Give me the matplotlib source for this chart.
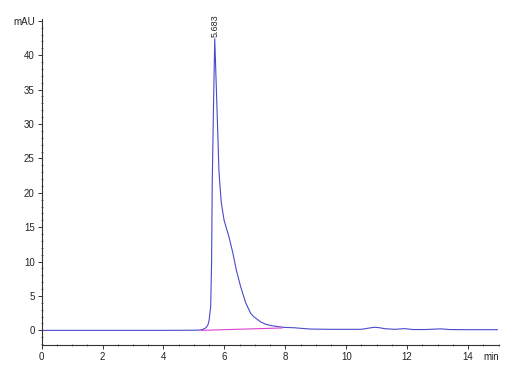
import matplotlib
matplotlib.use("Agg")
import matplotlib.pyplot as plt
import numpy as np

# chromatogram trace (min, mAU)
time_min = [0.0, 1.0, 2.0, 3.0, 4.0, 5.0, 5.2, 5.3, 5.4, 5.46, 5.50, 5.55, 5.58,
            5.60, 5.64, 5.683, 5.73, 5.78, 5.82, 5.855, 5.90, 5.99, 6.07, 6.15,
            6.28, 6.39, 6.53, 6.70, 6.86, 6.96, 7.08, 7.2, 7.35, 7.52, 7.75,
            7.96, 8.29, 8.5, 8.83, 9.49, 10.0, 10.48, 10.7, 10.92, 11.1, 11.25,
            11.6, 11.9, 12.2, 12.6, 13.1, 13.4, 13.8, 14.3, 14.96]
signal_mau = [0.0, 0.0, 0.0, 0.0, 0.0, 0.02, 0.05, 0.15, 0.4, 0.8, 1.5, 3.5, 10.0,
              21.0, 32.0, 42.4, 36.0, 29.0, 23.3, 21.0, 18.5, 16.0, 14.8, 13.6,
              11.2, 8.8, 6.4, 4.0, 2.5, 2.0, 1.6, 1.2, 0.9, 0.7, 0.55,
              0.43, 0.38, 0.3, 0.19, 0.15, 0.15, 0.15, 0.3, 0.45, 0.38, 0.25,
              0.15, 0.25, 0.12, 0.12, 0.22, 0.12, 0.1, 0.1, 0.1]

# integration baseline under the main peak
base_time = [5.25, 7.9]
base_mau = [0.0, 0.35]

peak_rt = 5.683
peak_height = 42.4

yticks = [0, 5, 10, 15, 20, 25, 30, 35, 40, 45]
ytick_labels = ["0", "5", "10", "15", "20", "25", "30", "35", "40", "mAU"]
xticks = [0, 2, 4, 6, 8, 10, 12, 14]

plt.rcParams['font.family'] = ['Liberation Sans Narrow', 'Liberation Sans', 'DejaVu Sans']

fig = plt.figure(figsize=(5.27, 3.83), dpi=100)
ax = fig.add_axes([0.079, 0.099, 0.867, 0.852])

ax.plot(time_min, signal_mau, color='#4a4acc', lw=0.8)
ax.plot(base_time, base_mau, color='#e040d0', lw=0.8)

ax.text(peak_rt, peak_height + 0.3, "%.3f" % peak_rt, rotation=90,
        ha='center', va='bottom', fontsize=6.5, color='#222222', clip_on=False)

ax.set_xlim(0, 15)
ax.set_ylim(-2.14, 45.3)

ax.set_yticks(yticks)
ax.set_yticklabels(ytick_labels)
ax.set_yticks(np.arange(-2, 45, 1), minor=True)
ax.set_xticks(xticks)
ax.set_xticks(np.arange(0, 15.01, 0.5), minor=True)

ax.tick_params(axis='both', which='major', labelsize=7, length=3, width=0.7,
               color='#333333', labelcolor='#222222', pad=2)
ax.tick_params(axis='both', which='minor', length=2, width=0.6,
               direction='inout', color='#555555')

ax.annotate("min", xy=(14.75, 0), xycoords=('data', 'axes fraction'),
            xytext=(0, -5), textcoords='offset points',
            ha='center', va='top', fontsize=7, color='#222222')

for side in ['top', 'right']:
    ax.spines[side].set_visible(False)
for side in ['left', 'bottom']:
    ax.spines[side].set_color('#333333')
    ax.spines[side].set_linewidth(0.8)

fig.savefig('out.png', dpi=100)
